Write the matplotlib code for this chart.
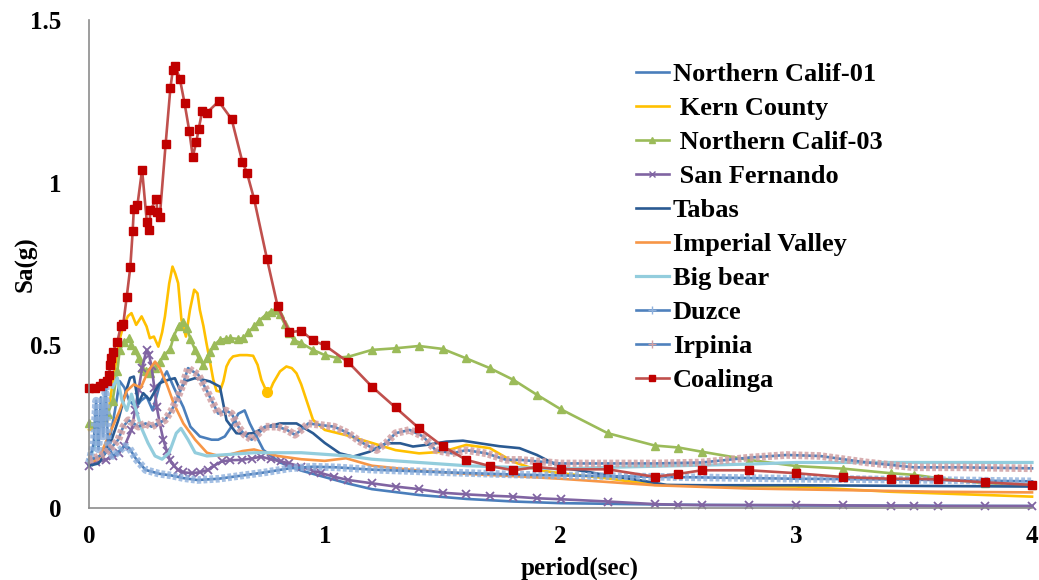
import matplotlib
matplotlib.use("Agg")
import matplotlib.pyplot as plt
from matplotlib.lines import Line2D

plt.rcParams['font.family'] = ['Liberation Serif', 'DejaVu Serif']
plt.rcParams['font.weight'] = 'bold'

# response spectra, period (s) vs Sa (g)
t_ncal01 = [0.0, 0.03, 0.06, 0.09, 0.11, 0.13, 0.15, 0.17, 0.2, 0.22, 0.244, 0.27, 0.3, 0.33, 0.36, 0.4, 0.43, 0.47,
            0.52, 0.548, 0.576, 0.604, 0.633, 0.66, 0.682, 0.703, 0.74, 0.81, 0.9, 1.0, 1.1, 1.2, 1.4, 1.6, 1.8, 2.0,
            2.5, 3.0, 3.5, 4.0]
sa_ncal01 = [0.14, 0.15, 0.17, 0.22, 0.30, 0.39, 0.37, 0.33, 0.31, 0.33, 0.343, 0.30, 0.38, 0.42, 0.37, 0.31, 0.25,
             0.22, 0.21, 0.21, 0.22, 0.25, 0.29, 0.30, 0.26, 0.23, 0.178, 0.14, 0.115, 0.095, 0.075, 0.058, 0.04,
             0.028, 0.02, 0.015, 0.01, 0.008, 0.007, 0.006]

t_kern = [0.0, 0.05, 0.075, 0.1, 0.13, 0.145, 0.165, 0.18, 0.2, 0.223, 0.244, 0.258, 0.275, 0.294, 0.31, 0.322, 0.34,
          0.354, 0.366, 0.378, 0.392, 0.411, 0.428, 0.446, 0.46, 0.47, 0.485, 0.498, 0.513, 0.527, 0.541, 0.555, 0.57,
          0.583, 0.597, 0.611, 0.64, 0.67, 0.696, 0.715, 0.731, 0.753, 0.767, 0.781, 0.81, 0.837, 0.86, 0.88, 0.9,
          0.922, 0.95, 1.0, 1.09, 1.2, 1.3, 1.4, 1.5, 1.6, 1.7, 1.8, 1.9, 2.0, 2.2, 2.4, 2.6, 3.0, 3.4, 4.0]
sa_kern = [0.24, 0.25, 0.26, 0.384, 0.52, 0.558, 0.59, 0.599, 0.563, 0.589, 0.558, 0.522, 0.527, 0.496, 0.54, 0.589,
           0.69, 0.742, 0.72, 0.691, 0.578, 0.527, 0.609, 0.671, 0.66, 0.609, 0.56, 0.507, 0.45, 0.394, 0.36, 0.358,
           0.39, 0.435, 0.455, 0.466, 0.47, 0.47, 0.468, 0.44, 0.394, 0.358, 0.36, 0.384, 0.42, 0.435, 0.43, 0.414,
           0.38, 0.332, 0.271, 0.24, 0.224, 0.2, 0.178, 0.168, 0.173, 0.194, 0.184, 0.142, 0.117, 0.107, 0.091, 0.071,
           0.068, 0.066, 0.05, 0.035]

t_ncal03 = [0.0, 0.03, 0.06, 0.08, 0.1, 0.12, 0.13, 0.15, 0.17, 0.18, 0.195, 0.21, 0.225, 0.24, 0.26, 0.28, 0.3, 0.32,
            0.345, 0.36, 0.38, 0.4, 0.415, 0.43, 0.45, 0.465, 0.485, 0.5, 0.515, 0.53, 0.555, 0.58, 0.6, 0.63, 0.655,
            0.675, 0.7, 0.72, 0.75, 0.77, 0.79, 0.81, 0.83, 0.85, 0.87, 0.9, 0.95, 1.0, 1.05, 1.1, 1.2, 1.3, 1.4, 1.5,
            1.6, 1.7, 1.8, 1.9, 2.0, 2.2, 2.4, 2.5, 2.6, 2.8, 3.0, 3.2, 3.4, 3.5, 3.6, 3.8, 4.0]
sa_ncal03 = [0.26, 0.26, 0.27, 0.29, 0.33, 0.42, 0.486, 0.51, 0.522, 0.5, 0.486, 0.46, 0.43, 0.42, 0.414, 0.43, 0.45,
             0.47, 0.49, 0.53, 0.56, 0.573, 0.553, 0.52, 0.486, 0.46, 0.44, 0.46, 0.481, 0.5, 0.517, 0.52, 0.522, 0.52,
             0.522, 0.54, 0.558, 0.575, 0.594, 0.604, 0.61, 0.595, 0.565, 0.537, 0.515, 0.507, 0.486, 0.47, 0.462,
             0.465, 0.486, 0.491, 0.498, 0.489, 0.46, 0.43, 0.394, 0.348, 0.304, 0.23, 0.192, 0.186, 0.173, 0.148,
             0.129, 0.121, 0.107, 0.102, 0.092, 0.076, 0.071]

t_sanfer = [0.0, 0.03, 0.07, 0.1, 0.125, 0.15, 0.18, 0.195, 0.21, 0.225, 0.244, 0.255, 0.265, 0.277, 0.287, 0.3, 0.315,
            0.33, 0.343, 0.36, 0.378, 0.4, 0.435, 0.47, 0.505, 0.53, 0.562, 0.6, 0.647, 0.69, 0.73, 0.77, 0.816, 0.85,
            0.9, 0.95, 0.986, 1.04, 1.1, 1.2, 1.3, 1.4, 1.5, 1.6, 1.7, 1.8, 1.9, 2.0, 2.2, 2.4, 2.5, 2.6, 2.8, 3.0,
            3.2, 3.4, 3.5, 3.6, 3.8, 4.0]
sa_sanfer = [0.13, 0.14, 0.148, 0.16, 0.168, 0.19, 0.24, 0.3, 0.363, 0.43, 0.486, 0.47, 0.435, 0.37, 0.312, 0.26, 0.21,
             0.175, 0.148, 0.13, 0.117, 0.11, 0.107, 0.11, 0.117, 0.13, 0.143, 0.147, 0.148, 0.152, 0.158, 0.15, 0.143,
             0.137, 0.127, 0.115, 0.107, 0.096, 0.086, 0.076, 0.066, 0.058, 0.047, 0.042, 0.038, 0.035, 0.03, 0.027,
             0.02, 0.012, 0.01, 0.009, 0.009, 0.009, 0.008, 0.007, 0.007, 0.006, 0.006, 0.006]

t_tabas = [0.0, 0.04, 0.07, 0.096, 0.124, 0.153, 0.174, 0.19, 0.209, 0.23, 0.258, 0.28, 0.3, 0.336, 0.364, 0.386,
           0.41, 0.449, 0.48, 0.513, 0.555, 0.583, 0.625, 0.66, 0.696, 0.753, 0.81, 0.88, 0.95, 1.0, 1.064, 1.12,
           1.19, 1.26, 1.32, 1.374, 1.43, 1.515, 1.586, 1.657, 1.74, 1.826, 1.9, 1.97, 2.02, 2.11, 2.2, 2.33, 2.45,
           2.6, 3.0, 3.5, 4.0]
sa_tabas = [0.13, 0.137, 0.17, 0.21, 0.27, 0.35, 0.40, 0.404, 0.322, 0.353, 0.332, 0.36, 0.384, 0.394, 0.399, 0.363,
            0.39, 0.399, 0.395, 0.389, 0.373, 0.27, 0.23, 0.228, 0.23, 0.25, 0.26, 0.26, 0.23, 0.2, 0.168, 0.158,
            0.173, 0.199, 0.199, 0.189, 0.194, 0.204, 0.207, 0.199, 0.19, 0.184, 0.163, 0.137, 0.122, 0.112, 0.10,
            0.086, 0.071, 0.07, 0.07, 0.068, 0.066]

t_imperial = [0.0, 0.04, 0.07, 0.1, 0.13, 0.16, 0.19, 0.22, 0.25, 0.28, 0.3, 0.33, 0.36, 0.4, 0.45, 0.5, 0.55, 0.6,
              0.65, 0.7, 0.75, 0.8, 0.9, 1.0, 1.09, 1.2, 1.4, 1.6, 1.8, 2.0, 2.2, 2.4, 2.8, 3.2, 3.6, 4.0]
sa_imperial = [0.14, 0.15, 0.2, 0.25, 0.3, 0.36, 0.38, 0.37, 0.42, 0.45, 0.43, 0.38, 0.32, 0.26, 0.21, 0.17, 0.16,
               0.165, 0.175, 0.18, 0.17, 0.16, 0.15, 0.145, 0.153, 0.13, 0.115, 0.105, 0.098, 0.09, 0.08, 0.07, 0.06,
               0.055, 0.05, 0.048]

t_bigbear = [0.0, 0.03, 0.06, 0.08, 0.1, 0.12, 0.14, 0.16, 0.18, 0.2, 0.22, 0.25, 0.28, 0.31, 0.34, 0.37, 0.39, 0.42,
             0.45, 0.5, 0.6, 0.7, 0.8, 0.9, 1.0, 1.1, 1.2, 1.4, 1.6, 1.8, 2.0, 2.2, 2.5, 2.8, 3.0, 3.5, 4.0]
sa_bigbear = [0.15, 0.2, 0.3, 0.4, 0.37, 0.4, 0.33, 0.3, 0.35, 0.3, 0.25, 0.2, 0.16, 0.15, 0.17, 0.23, 0.245, 0.21,
              0.17, 0.16, 0.165, 0.17, 0.17, 0.17, 0.165, 0.16, 0.15, 0.14, 0.13, 0.125, 0.12, 0.125, 0.13, 0.135,
              0.14, 0.14, 0.14]

t_duzce = [0.0, 0.02, 0.03, 0.04, 0.05, 0.06, 0.07, 0.08, 0.1, 0.12, 0.15, 0.17, 0.2, 0.24, 0.3, 0.35, 0.4, 0.46,
           0.55, 0.65, 0.75, 0.85, 0.95, 1.05, 1.2, 1.5, 1.8, 2.0, 2.5, 3.0, 3.5, 4.0]
sa_duzce = [0.14, 0.2, 0.33, 0.18, 0.34, 0.22, 0.38, 0.2, 0.16, 0.17, 0.19, 0.185, 0.15, 0.117, 0.105, 0.1, 0.092,
            0.086, 0.09, 0.1, 0.11, 0.122, 0.127, 0.125, 0.118, 0.11, 0.103, 0.1, 0.095, 0.09, 0.087, 0.082]

t_irpinia = [0.0, 0.03, 0.068, 0.1, 0.124, 0.145, 0.167, 0.19, 0.209, 0.24, 0.265, 0.29, 0.322, 0.35, 0.378, 0.4, 0.42,
             0.44, 0.463, 0.5, 0.548, 0.58, 0.605, 0.633, 0.66, 0.69, 0.72, 0.746, 0.8, 0.84, 0.873, 0.9, 0.93, 0.985,
             1.04, 1.1, 1.15, 1.22, 1.26, 1.3, 1.36, 1.417, 1.47, 1.54, 1.6, 1.685, 1.77, 1.83, 2.0, 2.2, 2.4, 2.6,
             2.8, 2.96, 3.1, 3.3, 3.5, 3.7, 4.0]
sa_irpinia = [0.148, 0.155, 0.168, 0.19, 0.21, 0.25, 0.27, 0.26, 0.25, 0.26, 0.25, 0.26, 0.27, 0.3, 0.343, 0.384, 0.43,
              0.42, 0.41, 0.36, 0.29, 0.3, 0.29, 0.25, 0.225, 0.21, 0.23, 0.25, 0.25, 0.24, 0.225, 0.24, 0.26, 0.255,
              0.25, 0.23, 0.204, 0.178, 0.2, 0.23, 0.24, 0.22, 0.178, 0.168, 0.178, 0.168, 0.148, 0.148, 0.137, 0.137,
              0.137, 0.14, 0.155, 0.163, 0.16, 0.14, 0.125, 0.125, 0.122]

t_coalinga = [0.0, 0.025, 0.045, 0.06, 0.075, 0.085, 0.09, 0.095, 0.1, 0.12, 0.135, 0.145, 0.16, 0.175, 0.185, 0.19,
              0.205, 0.225, 0.245, 0.255, 0.26, 0.285, 0.29, 0.3, 0.325, 0.345, 0.355, 0.365, 0.385, 0.405, 0.425,
              0.44, 0.455, 0.465, 0.48, 0.5, 0.55, 0.605, 0.65, 0.67, 0.7, 0.755, 0.8, 0.85, 0.9, 0.95, 1.0, 1.1, 1.2,
              1.3, 1.4, 1.5, 1.6, 1.7, 1.8, 1.9, 2.0, 2.2, 2.4, 2.5, 2.6, 2.8, 3.0, 3.2, 3.4, 3.5, 3.6, 3.8, 4.0]
sa_coalinga = [0.37, 0.37, 0.375, 0.385, 0.39, 0.41, 0.44, 0.46, 0.48, 0.51, 0.56, 0.565, 0.65, 0.74, 0.85, 0.92,
               0.93, 1.04, 0.88, 0.855, 0.915, 0.95, 0.91, 0.895, 1.12, 1.29, 1.345, 1.36, 1.32, 1.245, 1.16, 1.08,
               1.125, 1.165, 1.22, 1.215, 1.25, 1.195, 1.065, 1.03, 0.95, 0.765, 0.62, 0.54, 0.545, 0.515, 0.50,
               0.448, 0.373, 0.309, 0.245, 0.19, 0.148, 0.129, 0.116, 0.126, 0.119, 0.119, 0.096, 0.105, 0.116, 0.116,
               0.107, 0.095, 0.09, 0.09, 0.088, 0.079, 0.071]

names = ['Northern Calif-01', ' Kern County', ' Northern Calif-03', ' San Fernando', 'Tabas',
         'Imperial Valley', 'Big bear', 'Duzce', 'Irpinia', 'Coalinga']
xticks = [0, 1, 2, 3, 4]
xticklabels = ['0', '1', '2', '3', '4']
yticks = [0, 0.5, 1, 1.5]
yticklabels = ['0', '0.5', '1', '1.5']

fig = plt.figure(figsize=(10.39, 5.80), dpi=100)
ax = fig.add_axes([0.0857, 0.1241, 0.9076, 0.8414])
lw = 1.9

ax.plot(t_ncal01, sa_ncal01, color='#4A7EBB', lw=lw, clip_on=False)
ax.plot(t_kern, sa_kern, color='#FFC000', lw=lw, clip_on=False,
        marker='o', markersize=7, markevery=[t_kern.index(0.753)])
ax.plot(t_ncal03, sa_ncal03, color='#9BBB59', lw=lw, marker='^', markersize=5.5, clip_on=False)
ax.plot(t_sanfer, sa_sanfer, color='#8064A2', lw=lw, marker='x', markersize=5.5, mew=1.3, clip_on=False)
ax.plot(t_tabas, sa_tabas, color='#2A5A92', lw=lw, clip_on=False)
ax.plot(t_imperial, sa_imperial, color='#F79646', lw=lw, clip_on=False)
ax.plot(t_bigbear, sa_bigbear, color='#93CDDD', lw=lw + 0.4, clip_on=False)
# dense '+' markers show up as a textured band along the curve
ax.plot(t_duzce, sa_duzce, color='#4F81BD', lw=lw, clip_on=False)
ax.plot(t_duzce, sa_duzce, color='#8EB0DC', lw=5.5, ls=(0, (0.5, 0.3)), alpha=0.8, clip_on=False)
ax.plot(t_irpinia, sa_irpinia, color='#4F81BD', lw=lw, clip_on=False)
ax.plot(t_irpinia, sa_irpinia, color='#D2A0A3', lw=5.5, ls=(0, (0.5, 0.3)), alpha=0.85, clip_on=False)
ax.plot(t_coalinga, sa_coalinga, color='#C0504D', lw=lw, marker='s', markersize=6,
        markerfacecolor='#C00000', markeredgecolor='#C00000', clip_on=False)

ax.set_xlim(0, 4)
ax.set_ylim(0, 1.5)
ax.set_xticks(xticks)
ax.set_xticklabels(xticklabels)
ax.set_yticks(yticks)
ax.set_yticklabels(yticklabels)
ax.tick_params(length=0, labelsize=18)
ax.tick_params(axis='y', pad=20)
ax.tick_params(axis='x', pad=12)
for s in ['top', 'right']:
    ax.spines[s].set_visible(False)
for s in ['left', 'bottom']:
    ax.spines[s].set_color('#8C8C8C')
    ax.spines[s].set_linewidth(1.2)

ax.set_xlabel('period(sec)', fontsize=18, fontweight='bold')
ax.set_ylabel('Sa(g)', fontsize=18, fontweight='bold')
ax.xaxis.set_label_coords(0.52, -0.1)
ax.yaxis.set_label_coords(-0.055, 0.5)

handles = [
    Line2D([], [], color='#4A7EBB', lw=lw),
    Line2D([], [], color='#FFC000', lw=lw),
    Line2D([], [], color='#9BBB59', lw=lw, marker='^', markersize=5),
    Line2D([], [], color='#8064A2', lw=lw, marker='x', markersize=5),
    Line2D([], [], color='#2A5A92', lw=lw),
    Line2D([], [], color='#F79646', lw=lw),
    Line2D([], [], color='#93CDDD', lw=lw + 0.4),
    Line2D([], [], color='#4F81BD', lw=lw, marker='+', markersize=6, markeredgecolor='#8EB0DC'),
    Line2D([], [], color='#4F81BD', lw=lw, marker='+', markersize=6, markeredgecolor='#D2A0A3'),
    Line2D([], [], color='#C0504D', lw=lw, marker='s', markersize=5,
           markerfacecolor='#C00000', markeredgecolor='#C00000'),
]
fig.legend(handles, names, loc='upper left', bbox_to_anchor=(0.612, 0.892), frameon=False,
           handlelength=1.25, handletextpad=0.15, labelspacing=0.4,
           borderpad=0, borderaxespad=0, prop={'weight': 'bold', 'size': 19})

fig.savefig('out.png', dpi=100)
